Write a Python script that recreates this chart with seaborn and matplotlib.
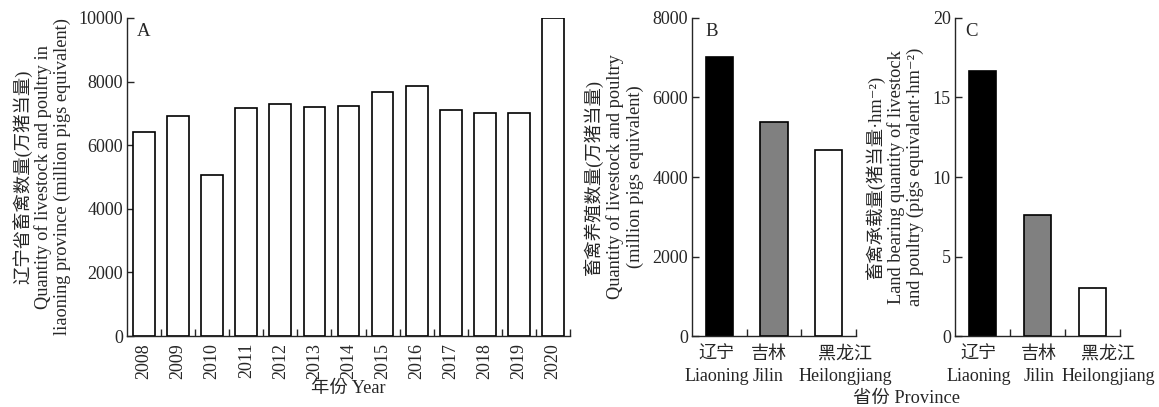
import matplotlib
matplotlib.use('Agg')
import matplotlib.pyplot as plt
import matplotlib.transforms as mtransforms
import seaborn as sns
import pandas as pd
import numpy as np

years = ['2008', '2009', '2010', '2011', '2012', '2013', '2014',
         '2015', '2016', '2017', '2018', '2019', '2020']
liaoning_qty = [6410, 6910, 5070, 7180, 7285, 7210, 7240,
                7665, 7850, 7095, 7020, 7010, 9990]

provinces = ['辽宁\nLiaoning', '吉林\nJilin', '黑龙江\nHeilongjiang']
province_qty = [7010, 5375, 4680]
land_bearing = [16.65, 7.6, 3.02]
province_colors = ['#000000', '#808080', '#ffffff']

sns.set_style('ticks')
plt.rcParams['font.family'] = ['Liberation Serif', 'Noto Sans CJK SC', 'DejaVu Serif']
plt.rcParams['axes.linewidth'] = 1.0

FS = 13.2

fig = plt.figure(figsize=(11.59, 4.07), dpi=100)
bottom, height = 0.1744, 0.7814
axA = fig.add_axes([0.1096, bottom, 0.3822, height])
axB = fig.add_axes([0.5971, bottom, 0.1415, height])
axC = fig.add_axes([0.824, bottom, 0.1424, height])


def style_axis(ax, n, ymax, yticks, letter, lx, xpad=5):
    ax.set_xlim(-0.5, n - 0.5)
    ax.set_ylim(0, ymax)
    ax.set_yticks(yticks)
    sns.despine(ax=ax)
    ax.set_xticks(np.arange(n) + 0.5, minor=True)
    ax.tick_params(axis='x', which='major', length=0, pad=xpad)
    ax.tick_params(axis='x', which='minor', direction='in', length=5, width=1)
    ax.tick_params(axis='y', direction='in', length=5, width=1, pad=3)
    for lab in ax.get_xticklabels() + ax.get_yticklabels():
        lab.set_fontsize(13)
    ax.text(lx, 0.985, letter, transform=ax.transAxes, ha='left', va='top',
            fontsize=13.5)


def shift_labels(ax, offsets):
    for lab, dx in zip(ax.get_xticklabels(), offsets):
        lab.set_linespacing(1.4)
        lab.set_fontsize(13)
        lab.set_transform(lab.get_transform() +
                          mtransforms.ScaledTranslation(dx / 72, 0, fig.dpi_scale_trans))


# A: Liaoning yearly quantity
dfA = pd.DataFrame({'year': years, 'qty': liaoning_qty})
sns.barplot(data=dfA, x='year', y='qty', ax=axA, color='white',
            edgecolor='black', linewidth=1.2, width=0.64, saturation=1)
style_axis(axA, len(years), 10000, range(0, 10001, 2000), 'A', 0.022)
axA.tick_params(axis='x', which='major', labelrotation=90)
axA.set_xlabel('年份 Year', fontsize=FS, labelpad=1)
axA.set_ylabel('辽宁省畜禽数量(万猪当量)\nQuantity of livestock and poultry in\n'
               'liaoning province (million pigs equivalent)',
               fontsize=FS, linespacing=1.15, labelpad=5)

# B: province quantity
dfB = pd.DataFrame({'prov': provinces, 'qty': province_qty})
sns.barplot(data=dfB, x='prov', y='qty', hue='prov', palette=province_colors,
            ax=axB, edgecolor='black', linewidth=1.2, width=0.5,
            saturation=1, legend=False)
style_axis(axB, len(provinces), 8000, range(0, 8001, 2000), 'B', 0.08, xpad=7)
axB.set_xlabel('')
axB.set_ylabel('畜禽养殖数量(万猪当量)\nQuantity of livestock and poultry\n'
               '(million pigs equivalent)',
               fontsize=FS, linespacing=1.2, labelpad=6)
shift_labels(axB, [-2, -4, 12])

# C: land bearing quantity
dfC = pd.DataFrame({'prov': provinces, 'val': land_bearing})
sns.barplot(data=dfC, x='prov', y='val', hue='prov', palette=province_colors,
            ax=axC, edgecolor='black', linewidth=1.2, width=0.5,
            saturation=1, legend=False)
style_axis(axC, len(provinces), 20, range(0, 21, 5), 'C', 0.065, xpad=7)
axC.set_xlabel('')
axC.set_ylabel('畜禽承载量(猪当量·hm⁻²)\nLand bearing quantity of livestock\n'
               'and poultry (pigs equivalent·hm⁻²)',
               fontsize=FS, linespacing=1.15, labelpad=6)
shift_labels(axC, [-3, 1, 11])

fig.text(0.782, 0.02, '省份 Province', ha='center', va='center', fontsize=FS)

fig.savefig('out.png', dpi=100)
